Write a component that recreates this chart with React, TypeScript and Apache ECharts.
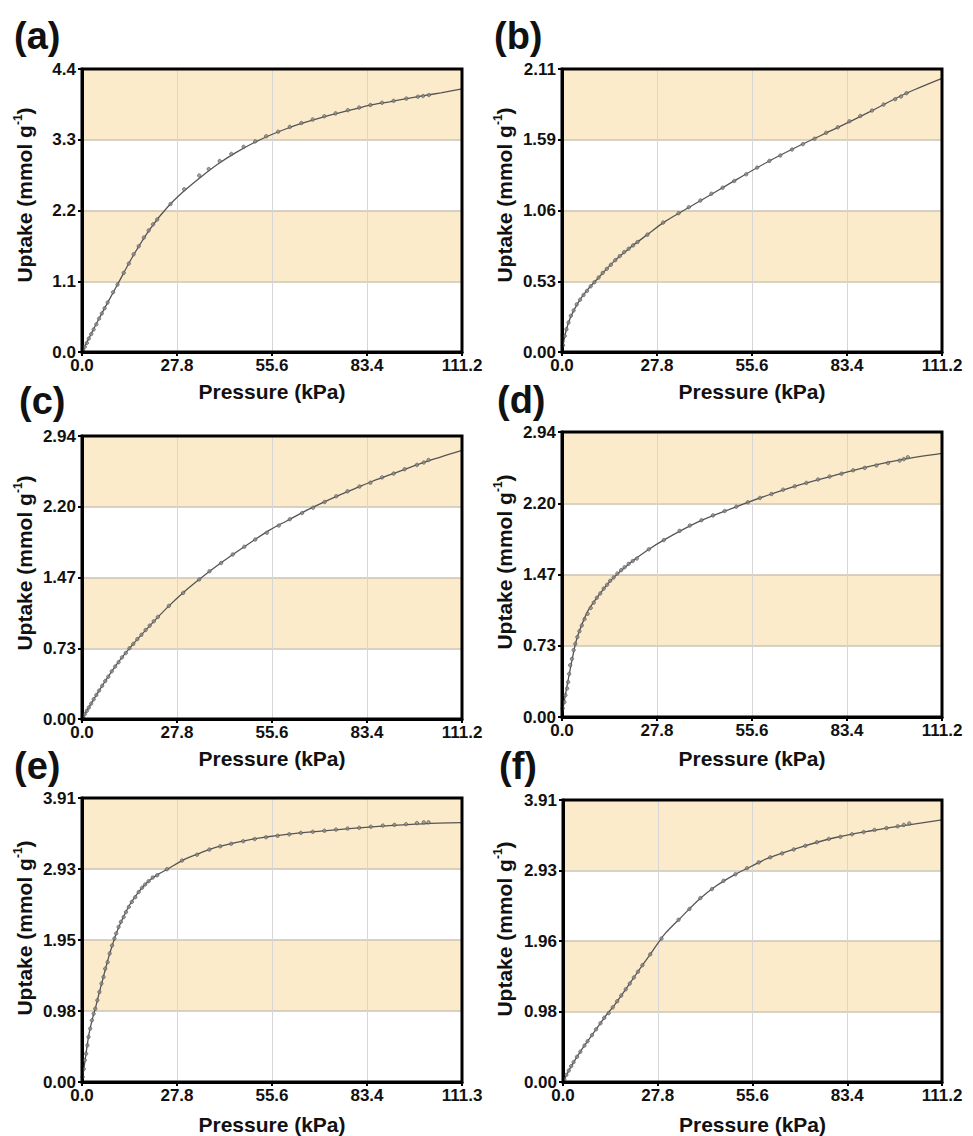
import React, { useEffect, useRef } from "react";
import * as echarts from "echarts";

// ---------- tick labels ----------
const xTicks = ["0.0", "27.8", "55.6", "83.4", "111.2"];
const xTicksE = ["0.0", "27.8", "55.6", "83.4", "111.3"];
const yTicksA = ["0.0", "1.1", "2.2", "3.3", "4.4"];
const yTicksB = ["0.00", "0.53", "1.06", "1.59", "2.11"];
const yTicksC = ["0.00", "0.73", "1.47", "2.20", "2.94"];
const yTicksD = ["0.00", "0.73", "1.47", "2.20", "2.94"];
const yTicksE = ["0.00", "0.98", "1.95", "2.93", "3.91"];
const yTicksF = ["0.00", "0.98", "1.96", "2.93", "3.91"];

const panelLetters = ["(a)", "(b)", "(c)", "(d)", "(e)", "(f)"];
const xName = "Pressure (kPa)";
const yName = "Uptake (mmol g{sup|-1})";

// ---------- data: [pressure kPa, uptake mmol/g] ----------
const aPoints = [
  [0.3, 0.03], [0.8, 0.08], [1.4, 0.14], [2.0, 0.21], [2.7, 0.28], [3.4, 0.35], [4.2, 0.43], [5.0, 0.52],
  [5.8, 0.6], [6.6, 0.68], [7.5, 0.77], [9.1, 0.93], [10.4, 1.05], [12.2, 1.23], [13.7, 1.375], [15.1, 1.52],
  [16.6, 1.645], [18.1, 1.78], [19.5, 1.89], [20.8, 1.985], [22.0, 2.06], [25.9, 2.3], [29.9, 2.53], [34.3, 2.745],
  [37.1, 2.845], [40.3, 2.97], [43.7, 3.08], [47.3, 3.19], [50.7, 3.275], [53.9, 3.355], [57.4, 3.425], [60.8, 3.5],
  [64.2, 3.56], [67.5, 3.615], [70.9, 3.665], [74.2, 3.71], [77.8, 3.76], [81.1, 3.8], [84.4, 3.84], [87.8, 3.875],
  [91.2, 3.905], [94.9, 3.94], [98.3, 3.97], [99.8, 3.98], [101.5, 3.995],
];
const aFit = [
  [0, 0], [5, 0.52], [10, 1.01], [15, 1.5], [20, 1.92], [25, 2.25], [30, 2.51], [35, 2.73], [40, 2.93], [45, 3.1],
  [50, 3.245], [55, 3.37], [60, 3.475], [65, 3.565], [70, 3.645], [75, 3.715], [80, 3.78], [85, 3.845], [90, 3.89],
  [95, 3.94], [100, 3.985], [105, 4.03], [111.2, 4.09],
];

const bPoints = [
  [0.3, 0.05], [0.8, 0.12], [1.3, 0.17], [1.9, 0.22], [2.6, 0.27], [3.4, 0.31], [4.3, 0.355], [5.3, 0.39],
  [6.3, 0.425], [7.3, 0.455], [8.4, 0.49], [9.5, 0.52], [10.7, 0.555], [11.9, 0.59], [13.1, 0.62], [14.3, 0.65],
  [15.6, 0.685], [16.9, 0.715], [18.2, 0.745], [19.5, 0.77], [20.8, 0.795], [22.1, 0.82], [25.0, 0.875], [29.6, 0.965],
  [34.1, 1.035], [37.1, 1.08], [40.5, 1.13], [43.7, 1.18], [47.0, 1.225], [50.4, 1.275], [53.9, 1.325], [57.1, 1.375],
  [60.7, 1.425], [63.9, 1.465], [67.3, 1.51], [70.5, 1.55], [73.9, 1.59], [77.3, 1.635], [80.7, 1.675], [84.1, 1.72],
  [87.3, 1.76], [90.7, 1.8], [94.1, 1.845], [97.5, 1.885], [99.2, 1.905], [100.8, 1.93],
];
const bFit = [
  [0, 0], [1, 0.14], [2.5, 0.26], [5, 0.38], [7.5, 0.465], [10, 0.535], [15, 0.67], [20, 0.78], [25, 0.875],
  [30, 0.97], [40, 1.12], [50, 1.27], [60, 1.415], [70, 1.545], [80, 1.665], [90, 1.79], [100, 1.92], [111.2, 2.04],
];

const cPoints = [
  [0.3, 0.02], [0.8, 0.05], [1.4, 0.085], [2.0, 0.12], [2.7, 0.16], [3.4, 0.205], [4.2, 0.25], [5.0, 0.295],
  [5.9, 0.345], [6.8, 0.395], [7.7, 0.44], [8.7, 0.495], [9.7, 0.545], [10.7, 0.59], [11.7, 0.64], [12.8, 0.685],
  [13.9, 0.735], [15.0, 0.78], [16.2, 0.83], [17.4, 0.875], [18.6, 0.925], [19.8, 0.97], [21.0, 1.015], [22.2, 1.06],
  [25.4, 1.175], [29.6, 1.31], [34.3, 1.45], [37.3, 1.535], [40.7, 1.62], [44.1, 1.71], [47.5, 1.79], [50.7, 1.865],
  [54.1, 1.935], [57.6, 2.01], [60.8, 2.075], [64.4, 2.14], [67.6, 2.195], [71.0, 2.255], [74.4, 2.315], [77.7, 2.365],
  [81.2, 2.415], [84.4, 2.455], [87.8, 2.51], [91.2, 2.55], [94.4, 2.595], [98.0, 2.64], [100.0, 2.665], [101.4, 2.69],
];
const cFit = [
  [0, 0], [5, 0.295], [10, 0.56], [15, 0.78], [20, 0.975], [25, 1.16], [30, 1.325], [35, 1.47], [40, 1.605],
  [45, 1.73], [50, 1.85], [55, 1.965], [60, 2.06], [65, 2.155], [70, 2.24], [75, 2.32], [80, 2.395], [85, 2.47],
  [90, 2.535], [95, 2.6], [100, 2.665], [111.2, 2.79],
];

const dPoints = [
  [0.2, 0.09], [0.7, 0.155], [1.0, 0.225], [1.5, 0.295], [1.8, 0.36], [2.1, 0.445], [2.4, 0.535], [2.9, 0.6],
  [3.4, 0.69], [3.9, 0.755], [4.5, 0.825], [5.1, 0.885], [5.8, 0.945], [6.6, 1.01], [7.5, 1.065], [8.4, 1.125],
  [9.3, 1.18], [10.2, 1.23], [11.2, 1.275], [12.2, 1.325], [13.2, 1.365], [14.1, 1.405], [15.1, 1.44], [16.2, 1.48],
  [17.3, 1.515], [18.3, 1.545], [19.5, 1.58], [20.7, 1.61], [21.9, 1.635], [25.4, 1.73], [29.8, 1.825], [34.4, 1.92],
  [37.4, 1.975], [40.8, 2.03], [44.2, 2.08], [47.6, 2.125], [51.0, 2.17], [54.4, 2.215], [57.9, 2.26], [61.3, 2.3],
  [64.7, 2.345], [68.1, 2.38], [71.5, 2.415], [74.9, 2.45], [78.3, 2.48], [81.8, 2.51], [85.2, 2.545], [88.6, 2.57],
  [92.0, 2.595], [95.4, 2.62], [98.8, 2.645], [100.0, 2.66], [101.2, 2.68],
];
const dFit = [
  [0, 0], [0.5, 0.13], [1, 0.23], [2, 0.42], [3, 0.6], [4, 0.765], [5, 0.88], [7.5, 1.09], [10, 1.22], [12.5, 1.335],
  [15, 1.435], [20, 1.59], [25, 1.72], [30, 1.83], [40, 2.015], [50, 2.155], [60, 2.285], [70, 2.4], [80, 2.495],
  [90, 2.585], [100, 2.66], [111.2, 2.72],
];

const ePoints = [
  [0.2, 0.07], [0.5, 0.18], [0.8, 0.3], [1.2, 0.39], [1.6, 0.505], [1.9, 0.62], [2.4, 0.735], [2.9, 0.85],
  [3.4, 0.94], [3.9, 1.01], [4.5, 1.125], [5.1, 1.24], [5.7, 1.355], [6.3, 1.445], [6.8, 1.56], [7.5, 1.65],
  [8.1, 1.77], [8.8, 1.88], [9.5, 1.975], [10.0, 2.045], [10.7, 2.135], [11.4, 2.205], [12.2, 2.27], [12.9, 2.34],
  [13.7, 2.41], [14.6, 2.48], [15.6, 2.545], [16.6, 2.615], [17.6, 2.675], [18.5, 2.72], [19.5, 2.765], [20.7, 2.815],
  [22.0, 2.845], [24.9, 2.93], [29.3, 3.05], [33.7, 3.13], [37.3, 3.2], [40.5, 3.245], [43.7, 3.28], [47.2, 3.315],
  [50.6, 3.345], [53.9, 3.37], [57.3, 3.39], [60.7, 3.41], [64.1, 3.43], [67.6, 3.445], [71.0, 3.46], [74.4, 3.475],
  [77.8, 3.49], [81.2, 3.5], [84.6, 3.515], [88.1, 3.53], [91.5, 3.54], [94.9, 3.55], [98.1, 3.565], [100.1, 3.575],
  [101.5, 3.575],
];
const eFit = [
  [0, 0], [1, 0.33], [2, 0.65], [3, 0.86], [4, 1.03], [5, 1.22], [6, 1.4], [7, 1.58], [8, 1.75], [9, 1.9], [10, 2.04],
  [12, 2.26], [14, 2.44], [16, 2.58], [18, 2.695], [20, 2.785], [22.5, 2.865], [25, 2.93], [30, 3.065], [35, 3.16],
  [40, 3.24], [50, 3.345], [60, 3.41], [70, 3.455], [80, 3.495], [90, 3.53], [100, 3.555], [111.3, 3.57],
];

const fPoints = [
  [0.4, 0.04], [1.0, 0.1], [1.7, 0.16], [2.4, 0.22], [3.1, 0.275], [4.1, 0.35], [5.1, 0.42], [6.3, 0.505],
  [7.2, 0.565], [8.5, 0.65], [9.7, 0.73], [11.0, 0.815], [12.1, 0.89], [13.4, 0.955], [14.6, 1.035], [15.9, 1.12],
  [17.1, 1.2], [18.4, 1.285], [19.6, 1.365], [20.8, 1.45], [22.0, 1.53], [23.3, 1.62], [25.6, 1.77], [28.9, 1.99],
  [33.9, 2.25], [37.1, 2.4], [40.3, 2.55], [43.7, 2.675], [47.1, 2.79], [50.6, 2.88], [54.0, 2.965], [57.4, 3.045],
  [60.8, 3.115], [64.3, 3.17], [67.7, 3.225], [71.1, 3.275], [74.5, 3.325], [78.0, 3.37], [81.4, 3.4], [84.8, 3.435],
  [88.2, 3.465], [91.4, 3.495], [94.9, 3.52], [98.2, 3.545], [100.0, 3.565], [101.6, 3.585],
];
const fFit = [
  [0, 0], [2.5, 0.225], [5, 0.415], [7.5, 0.585], [10, 0.75], [12.5, 0.915], [15, 1.06], [17.5, 1.225], [20, 1.395],
  [22.5, 1.565], [25, 1.73], [27.5, 1.9], [30, 2.06], [35, 2.3], [40, 2.535], [45, 2.72], [50, 2.865], [55, 2.985],
  [60, 3.1], [70, 3.26], [80, 3.39], [90, 3.48], [100, 3.555], [111.2, 3.633],
];

const panels = [
  { pts: aPoints, fit: aFit, xLabels: xTicks, yLabels: yTicksA },
  { pts: bPoints, fit: bFit, xLabels: xTicks, yLabels: yTicksB },
  { pts: cPoints, fit: cFit, xLabels: xTicks, yLabels: yTicksC },
  { pts: dPoints, fit: dFit, xLabels: xTicks, yLabels: yTicksD },
  { pts: ePoints, fit: eFit, xLabels: xTicksE, yLabels: yTicksE },
  { pts: fPoints, fit: fFit, xLabels: xTicks, yLabels: yTicksF },
];

// ---------- layout (pixels) ----------
const layouts = [
  { left: 82, top: 69, width: 380, height: 283, lx: 14, ly: 36, nx: 24, ny: 195, gap: 29 },
  { left: 562, top: 69, width: 380, height: 283, lx: 494, ly: 36, nx: 504, ny: 195, gap: 29 },
  { left: 82, top: 436, width: 380, height: 283, lx: 19, ly: 401, nx: 24, ny: 563, gap: 29 },
  { left: 562, top: 432, width: 380, height: 285, lx: 497, ly: 400, nx: 504, ny: 562, gap: 31 },
  { left: 82, top: 798, width: 380, height: 284, lx: 14, ly: 766, nx: 24, ny: 928, gap: 32 },
  { left: 563, top: 800, width: 379, height: 282, lx: 499, ly: 766, nx: 504, ny: 929, gap: 32 },
];

const FONT = '"Liberation Sans", Arial, Helvetica, sans-serif';
const BAND = "#fcebcb";

export default function App() {
  const ref = useRef<HTMLDivElement>(null);

  useEffect(() => {
    document.body.style.margin = "0";
    if (!ref.current) return;
    const chart = echarts.init(ref.current, undefined, { renderer: "svg" });

    const grid: any[] = [];
    const xAxis: any[] = [];
    const yAxis: any[] = [];
    const series: any[] = [];
    const graphic: any[] = [];

    panels.forEach((p, i) => {
      const L = layouts[i];
      const xMax = parseFloat(p.xLabels[p.xLabels.length - 1]);
      const yMax = parseFloat(p.yLabels[p.yLabels.length - 1]);
      const xStep = xMax / 4;
      const yStep = yMax / 4;

      grid.push({
        left: L.left,
        top: L.top,
        width: L.width,
        height: L.height,
        show: true,
        backgroundColor: "transparent",
        borderColor: "#000",
        borderWidth: 3,
        z: 5,
      });

      xAxis.push({
        type: "value",
        gridIndex: i,
        min: 0,
        max: xMax,
        interval: xStep,
        axisLine: { show: true, onZero: false, lineStyle: { color: "#000", width: 3 } },
        axisTick: { show: true, inside: false, length: 4, lineStyle: { color: "#000", width: 2 } },
        axisLabel: {
          show: true,
          margin: 5,
          color: "#111",
          fontSize: 17,
          fontWeight: "bold",
          fontFamily: FONT,
          showMinLabel: true,
          showMaxLabel: true,
          hideOverlap: false,
          formatter: (v: number) => p.xLabels[Math.round(v / xStep)] ?? "",
        },
        splitLine: { show: true, lineStyle: { color: "#d6d6d6", width: 1 } },
        splitArea: { show: false },
        name: xName,
        nameLocation: "middle",
        nameGap: L.gap,
        nameTextStyle: { fontSize: 21, fontWeight: "bold", color: "#111", fontFamily: FONT },
      });

      yAxis.push({
        type: "value",
        gridIndex: i,
        min: 0,
        max: yMax,
        interval: yStep,
        axisLine: { show: true, onZero: false, lineStyle: { color: "#000", width: 3 } },
        axisTick: { show: true, inside: false, length: 4, lineStyle: { color: "#000", width: 2 } },
        axisLabel: {
          show: true,
          margin: 6,
          color: "#111",
          fontSize: 17,
          fontWeight: "bold",
          fontFamily: FONT,
          showMinLabel: true,
          showMaxLabel: true,
          hideOverlap: false,
          formatter: (v: number) => p.yLabels[Math.round(v / yStep)] ?? "",
        },
        splitLine: { show: true, lineStyle: { color: "#cbc3b4", width: 1.5 } },
        splitArea: { show: true, areaStyle: { color: ["#ffffff", BAND] } },
      });

      series.push({
        type: "line",
        xAxisIndex: i,
        yAxisIndex: i,
        data: p.fit,
        showSymbol: false,
        smooth: 0.3,
        lineStyle: { color: "#555555", width: 1.3 },
        z: 2,
        silent: true,
      });
      series.push({
        type: "scatter",
        xAxisIndex: i,
        yAxisIndex: i,
        data: p.pts,
        symbol: "circle",
        symbolSize: 3.5,
        itemStyle: { color: "#8c8c8c", borderColor: "#4a4a4a", borderWidth: 0.7 },
        z: 3,
        silent: true,
      });

      graphic.push({
        type: "text",
        x: L.lx,
        y: L.ly,
        style: {
          text: panelLetters[i],
          fill: "#111",
          font: `bold 38px ${FONT}`,
          align: "left",
          verticalAlign: "middle",
        },
      });
      graphic.push({
        type: "text",
        x: L.nx,
        y: L.ny,
        rotation: Math.PI / 2,
        style: {
          text: yName,
          fill: "#111",
          font: `bold 21px ${FONT}`,
          align: "center",
          verticalAlign: "middle",
          lineHeight: 24,
          rich: {
            sup: {
              fontSize: 12,
              fontWeight: "bold",
              fontFamily: FONT,
              fill: "#111",
              verticalAlign: "top",
              lineHeight: 24,
            },
          },
        },
      });
    });

    chart.setOption({
      animation: false,
      backgroundColor: "#ffffff",
      grid,
      xAxis,
      yAxis,
      series,
      graphic,
    });

    return () => {
      chart.dispose();
    };
  }, []);

  return <div ref={ref} style={{ width: 973, height: 1136 }} />;
}
